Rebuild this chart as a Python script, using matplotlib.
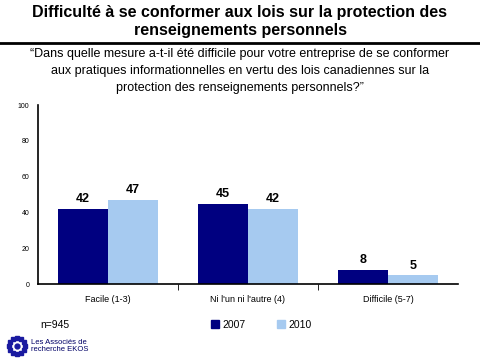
import matplotlib.pyplot as plt
import numpy as np
from matplotlib.lines import Line2D
from matplotlib.patches import Patch

categories = ["Facile (1-3)", "Ni l'un ni l'autre (4)", "Difficile (5-7)"]
values_2007 = [42, 45, 8]
values_2010 = [47, 42, 5]
series_names = ["2007", "2010"]
colors = ["#000080", "#A6CAF0"]

plt.rcParams["font.family"] = ["Liberation Sans", "DejaVu Sans"]

fig = plt.figure(figsize=(4.8, 3.6), dpi=100)

fig.text(0.5, 0.985, "Difficulté à se conformer aux lois sur la protection des\nrenseignements personnels",
         ha="center", va="top", fontsize=11.5, fontweight="bold", linespacing=1.22)
fig.add_artist(Line2D([0, 1], [0.881, 0.881], color="black", lw=2))
fig.text(0.5, 0.866,
         "\u201cDans quelle mesure a-t-il été difficile pour votre entreprise de se conformer\n"
         "aux pratiques informationnelles en vertu des lois canadiennes sur la\n"
         "protection des renseignements personnels?\u201d",
         ha="center", va="top", fontsize=9, linespacing=1.55)

ax = fig.add_axes([0.079, 0.211, 0.875, 0.497])
x = np.arange(len(categories))
w = 0.357
b1 = ax.bar(x - w / 2, values_2007, w, color=colors[0])
b2 = ax.bar(x + w / 2, values_2010, w, color=colors[1])
for bars in (b1, b2):
    for r in bars:
        ax.text(r.get_x() + r.get_width() / 2, r.get_height() + 2, f"{r.get_height():.0f}",
                ha="center", va="bottom", fontsize=9, fontweight="bold")

ax.set_xlim(-0.5, 2.5)
ax.set_ylim(0, 100)
ax.set_yticks(range(0, 101, 20))
ax.tick_params(axis="y", labelsize=5, length=0, pad=6)
ax.set_xticks([0.5, 1.5], minor=True)
ax.set_xticks(x)
ax.set_xticklabels(categories, fontsize=6.5)
ax.tick_params(axis="x", which="major", length=0, pad=8)
ax.tick_params(axis="x", which="minor", length=4, direction="out")
for s in ("top", "right"):
    ax.spines[s].set_visible(False)
ax.spines["left"].set_linewidth(1.2)
ax.spines["bottom"].set_linewidth(1.2)

handles = [Patch(color=c) for c in colors]
fig.legend(handles, series_names, loc="center left", bbox_to_anchor=(0.42, 0.097), ncol=2,
           frameon=False, fontsize=7.5, handlelength=0.8, handleheight=0.8,
           handletextpad=0.3, columnspacing=3)
fig.text(0.083, 0.097, "n=945", ha="left", va="center", fontsize=7.5)

# logo
ang = np.linspace(0, 2 * np.pi, 12, endpoint=False)
lx = 0.035 + 0.017 * np.cos(ang)
ly = 0.039 + 0.023 * np.sin(ang)
fig.add_artist(Line2D(lx, ly, ls="none", marker="s", ms=3, color="#1a1aa0"))
fig.add_artist(Line2D([0.035], [0.039], ls="none", marker="o", ms=3.5, color="#1a1aa0"))
fig.text(0.065, 0.039, "Les Associés de\nrecherche EKOS", ha="left", va="center",
         fontsize=5.5, color="#000066", linespacing=1.1)

fig.savefig("out.png", dpi=100)
